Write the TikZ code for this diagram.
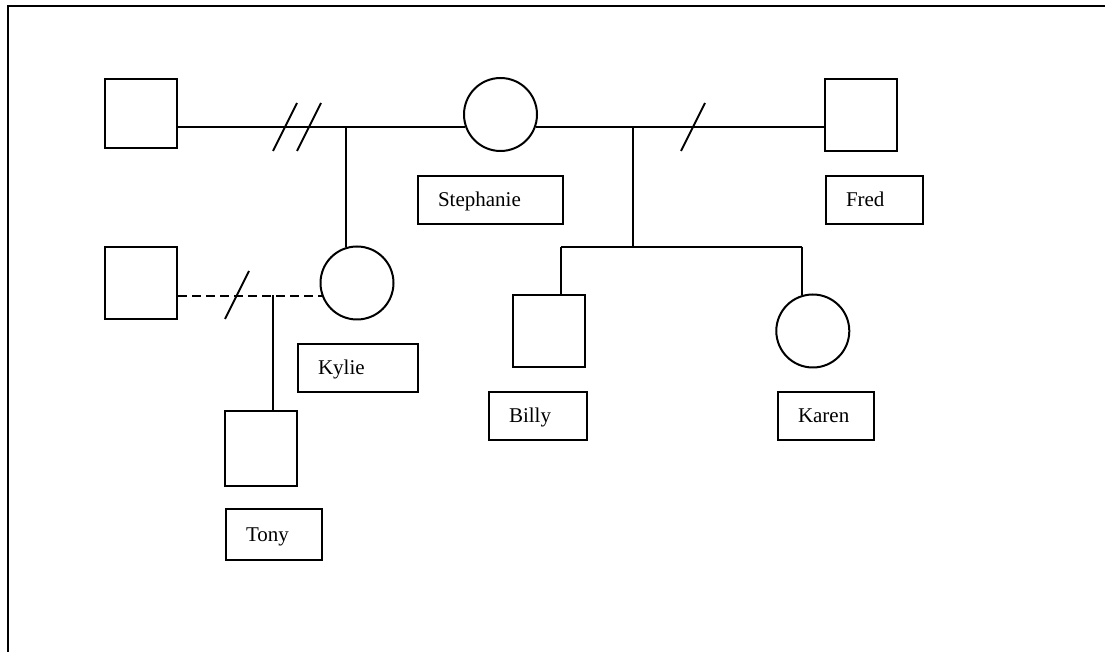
\documentclass[tikz,border=0pt]{standalone}
\usepackage{fontspec}
\setmainfont{Liberation Serif}
\usetikzlibrary{positioning}

\begin{document}
\begin{tikzpicture}[x=0.5pt, y=-0.5pt, line width=1pt]
        \tikzset{malebox/.style={rectangle, draw, minimum width=36pt, minimum height=36pt, inner sep=0pt}, femalecirc/.style={circle, draw, minimum size=36.5pt, inner sep=0pt}, namebox/.style={rectangle, draw, anchor=north west, align=left, inner xsep=10pt, inner ysep=0pt, minimum height=24pt, text height=7.5pt, text depth=0.5pt, font=\fontsize{10.5}{12}\selectfont}, divorce/.style={line width=1pt}}
        \useasboundingbox (0,0) rectangle (1105,652);
        \draw (8,652) -- (8,6) -- (1105,6);
        \node[malebox, minimum height=34.5pt] (stephex) at (141,113.5) {};
        \node[femalecirc] (stephanie) at (500.5,114.5) {};
        \node[malebox] (fred) at (861,115) {};
        \node[malebox] (kylieex) at (141,283) {};
        \node[femalecirc] (kylie) at (357,283) {};
        \node[malebox] (billy) at (549,331) {};
        \node[femalecirc] (karen) at (812.8,331) {};
        \node[malebox, minimum height=37.5pt] (tony) at (261,449) {};
        \node[namebox, text width=52.5pt] (lstephanie) at (417,175) {Stephanie};
        \node[namebox, text width=28.5pt] (lfred) at (825,175) {Fred};
        \node[namebox, text width=40pt] (lkylie) at (297,343) {Kylie};
        \node[namebox, text width=29pt] (lbilly) at (488,391) {Billy};
        \node[namebox, text width=28pt] (lkaren) at (777,391) {Karen};
        \node[namebox, text width=28pt, minimum height=25.5pt] (ltony) at (225,508) {Tony};
        \coordinate (m1) at (345.7,127);
        \coordinate (m2) at (633,127);
        \coordinate (m3) at (273,295);
        \coordinate (sibl) at (561,246.7);
        \coordinate (sibr) at (801.7,246.7);
        \draw (stephex.east |- stephanie.200) -- (stephanie.200);
        \draw (stephanie.-20) -- (fred.west |- stephanie.-20);
        \draw (m1) -- (m1 |- kylie.108);
        \draw (m2) -- (m2 |- sibl);
        \draw (sibl) -- (sibr);
        \draw (sibl) -- (sibl |- billy.north);
        \draw (sibr) -- (sibr |- karen.108);
        \draw[dash pattern=on 4.5pt off 2.5pt] (kylieex.east |- kylie.200) -- (kylie.200);
        \draw (m3) -- (m3 |- tony.north);
        \draw[divorce] (285,127) ++(-12,24) -- ++(24,-48);
        \draw[divorce] (309,127) ++(-12,24) -- ++(24,-48);
        \draw[divorce] (693,127) ++(-12,24) -- ++(24,-48);
        \draw[divorce] (237,295) ++(-12,24) -- ++(24,-48);
    \end{tikzpicture}
\end{document}
